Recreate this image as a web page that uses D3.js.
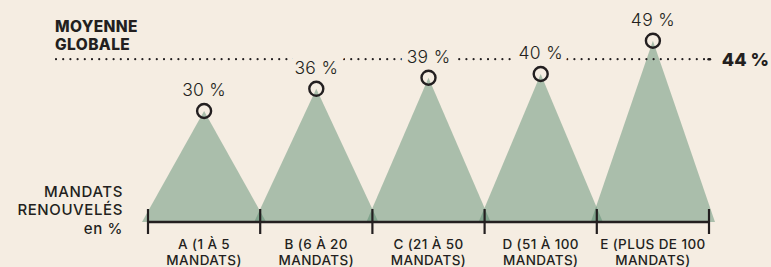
<!DOCTYPE html>
<html>
<head>
<meta charset="utf-8">
<script src="https://cdn.jsdelivr.net/npm/d3@7"></script>
<style>
    html, body { margin: 0; padding: 0; background: #f5ede2; }
    svg { display: block; font-family: Inter, "Noto Sans", sans-serif; }
</style>
</head>
<body>
<svg id="chart" width="771" height="267"></svg>
<script>
// Data
const categories = ["A", "B", "C", "D", "E"];
const categoryLabels = [
    ["A (1 À 5", "MANDATS)"],
    ["B (6 À 20", "MANDATS)"],
    ["C (21 À 50", "MANDATS)"],
    ["D (51 À 100", "MANDATS)"],
    ["E (PLUS DE 100", "MANDATS)"]
];
const values = [30, 36, 39, 40, 49];
const average = 44;
const averageTitle = ["MOYENNE", "GLOBALE"];
const axisTitle = ["MANDATS", "RENOUVELÉS", "en %"];

const ink = '#231f20';
const svg = d3.select('#chart');

const x = d3.scaleBand()
    .domain(categories)
    .range([148, 709])
    .padding(0);

const y = d3.scaleLinear()
    .domain([0, 60])
    .range([222, 0]);

// Triangles (slightly wider than their band so neighbours overlap)
const overhang = 6;
svg.append('g')
    .selectAll('path')
    .data(values)
    .join('path')
    .attr('d', (d, i) => {
        const cx = x(categories[i]) + x.bandwidth() / 2;
        const hw = x.bandwidth() / 2 + overhang;
        return `M${cx - hw},${y(0)} L${cx},${y(d)} L${cx + hw},${y(0)} Z`;
    })
    .attr('fill', '#4f8468')
    .attr('fill-opacity', 0.45);

// Average dotted line
svg.append('line')
    .attr('x1', 56)
    .attr('x2', 704)
    .attr('y1', y(average))
    .attr('y2', y(average))
    .attr('stroke', ink)
    .attr('stroke-width', 2.2)
    .attr('stroke-linecap', 'round')
    .attr('stroke-dasharray', '0 7.2');

svg.append('line')
    .attr('x1', 708.5)
    .attr('x2', 710)
    .attr('y1', y(average))
    .attr('y2', y(average))
    .attr('stroke', ink)
    .attr('stroke-width', 2.4)
    .attr('stroke-linecap', 'round');

svg.append('text')
    .attr('x', 769)
    .attr('y', y(average) + 6.5)
    .attr('text-anchor', 'end')
    .attr('fill', ink)
    .style('font-size', '18px')
    .style('font-weight', 800)
    .text(`${average} %`);

svg.append('text')
    .attr('fill', ink)
    .style('font-size', '15.5px')
    .style('font-weight', 800)
    .style('letter-spacing', '0.4px')
    .selectAll('tspan')
    .data(averageTitle)
    .join('tspan')
    .attr('x', 55)
    .attr('y', (d, i) => 31.5 + i * 18)
    .text(d => d);

// Axis title
svg.append('text')
    .attr('text-anchor', 'end')
    .attr('fill', ink)
    .style('font-size', '15px')
    .style('font-weight', 500)
    .style('letter-spacing', '0.6px')
    .selectAll('tspan')
    .data(axisTitle)
    .join('tspan')
    .attr('x', 123)
    .attr('y', (d, i) => 196.5 + i * 18.5)
    .text(d => d);

// Value labels with a halo that cuts the dotted line
svg.append('g')
    .selectAll('text')
    .data(values)
    .join('text')
    .attr('x', (d, i) => x(categories[i]) + x.bandwidth() / 2)
    .attr('y', d => y(d) - 15)
    .attr('text-anchor', 'middle')
    .attr('fill', ink)
    .attr('stroke', '#f5ede2')
    .attr('stroke-width', 12)
    .attr('paint-order', 'stroke')
    .style('font-size', '17.5px')
    .style('font-weight', 300)
    .style('letter-spacing', '0.3px')
    .text(d => `${d} %`);

// Circles at peaks
svg.append('g')
    .selectAll('circle')
    .data(values)
    .join('circle')
    .attr('cx', (d, i) => x(categories[i]) + x.bandwidth() / 2)
    .attr('cy', d => y(d))
    .attr('r', 7)
    .attr('fill', 'none')
    .attr('stroke', ink)
    .attr('stroke-width', 2.4);

// Baseline axis
const edges = categories.map(c => x(c)).concat([x.range()[1]]);
svg.append('line')
    .attr('x1', x.range()[0])
    .attr('x2', x.range()[1])
    .attr('y1', y(0))
    .attr('y2', y(0))
    .attr('stroke', ink)
    .attr('stroke-width', 2.5);

svg.append('g')
    .selectAll('line')
    .data(edges)
    .join('line')
    .attr('x1', d => d)
    .attr('x2', d => d)
    .attr('y1', 209)
    .attr('y2', 234)
    .attr('stroke', ink)
    .attr('stroke-width', 2.2);

// Category labels
svg.append('g')
    .selectAll('text')
    .data(categoryLabels)
    .join('text')
    .attr('text-anchor', 'middle')
    .attr('fill', ink)
    .style('font-size', '13.5px')
    .style('font-weight', 500)
    .style('letter-spacing', '0.4px')
    .each(function (lines, i) {
        d3.select(this).selectAll('tspan')
            .data(lines)
            .join('tspan')
            .attr('x', x(categories[i]) + x.bandwidth() / 2)
            .attr('y', (d, j) => 249 + j * 15.5)
            .text(d => d);
    });
</script>
</body>
</html>
